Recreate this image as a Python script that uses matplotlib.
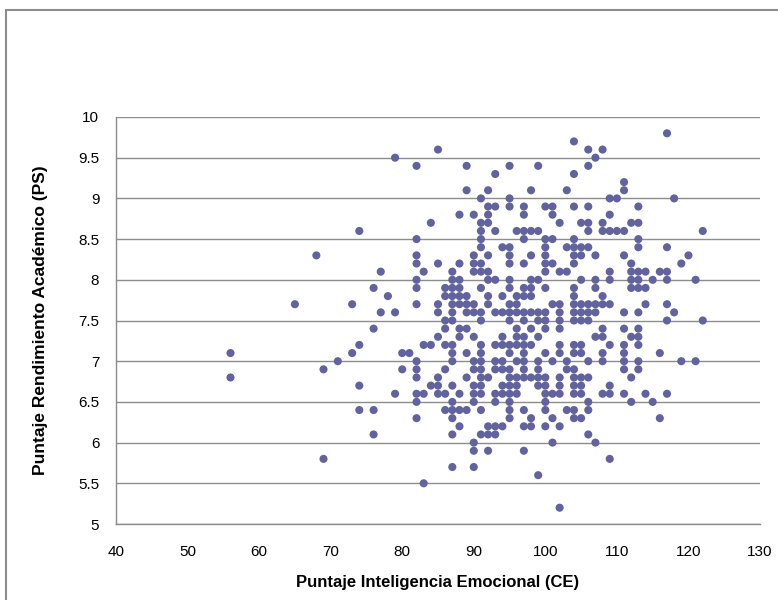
import matplotlib
matplotlib.use("Agg")
import matplotlib.pyplot as plt
from matplotlib.patches import Rectangle

plt.rcParams['font.family'] = ['Liberation Sans Narrow', 'Liberation Sans', 'DejaVu Sans']

# Data: x = Inteligencia Emocional (CE), list of PS values at that x
ce_values = [56, 65, 68, 69, 71, 73, 74, 76, 77, 78, 79, 80, 81, 82, 83, 84, 85, 86, 87, 88,
             89, 90, 91, 92, 93, 94, 95, 96, 97, 98, 99, 100, 101, 102, 103, 104, 105, 106,
             107, 108, 109, 110, 111, 112, 113, 114, 115, 116, 117, 118, 119, 120, 121, 122]
ps_values = [
    [7.1, 6.8],
    [7.7],
    [8.3],
    [6.9, 5.8],
    [7.0],
    [7.7, 7.1],
    [8.6, 7.2, 6.7, 6.4],
    [7.9, 7.4, 6.4, 6.1],
    [8.1, 7.6],
    [7.8],
    [9.5, 7.6, 6.6],
    [7.1, 6.9],
    [7.1],
    [9.4, 8.5, 8.3, 8.2, 8.0, 7.9, 7.7, 7.0, 6.9, 6.8, 6.6, 6.5, 6.3],
    [8.1, 7.2, 6.6, 5.5],
    [8.7, 7.2, 6.7],
    [9.6, 8.2, 7.7, 7.6, 7.3, 6.8, 6.7, 6.6],
    [7.9, 7.8, 7.5, 7.4, 7.2, 6.9, 6.6, 6.4],
    [8.1, 8.0, 7.9, 7.8, 7.7, 7.6, 7.5, 7.2, 7.1, 7.0, 6.7, 6.5, 6.4, 6.3, 6.1, 5.7],
    [8.8, 8.2, 8.0, 7.9, 7.8, 7.7, 7.4, 7.3, 6.6, 6.4, 6.2],
    [9.4, 9.1, 7.8, 7.7, 7.6, 7.4, 7.1, 6.8, 6.4],
    [8.8, 8.3, 8.2, 8.1, 7.7, 7.6, 7.3, 7.0, 6.9, 6.7, 6.6, 6.5, 6.0, 5.9, 5.7],
    [9.0, 8.7, 8.6, 8.5, 8.4, 8.2, 8.1, 7.9, 7.6, 7.5, 7.2, 7.1, 7.0, 6.9, 6.8, 6.7, 6.6, 6.4, 6.1],
    [9.1, 8.9, 8.8, 8.7, 8.3, 8.1, 8.0, 7.8, 7.7, 6.8, 6.2, 6.1, 5.9],
    [9.3, 8.9, 8.6, 8.0, 7.6, 7.2, 7.0, 6.9, 6.6, 6.5, 6.2, 6.1],
    [8.4, 7.8, 7.6, 7.3, 7.2, 7.0, 6.9, 6.7, 6.6, 6.2],
    [9.4, 9.0, 8.9, 8.4, 8.3, 8.2, 8.0, 7.9, 7.7, 7.6, 7.5, 7.2, 7.1, 6.9, 6.8, 6.7, 6.6, 6.5, 6.4, 6.3],
    [8.6, 7.8, 7.7, 7.6, 7.4, 7.3, 7.2, 7.0, 6.8, 6.7, 6.6],
    [8.9, 8.8, 8.6, 8.5, 8.2, 7.9, 7.8, 7.6, 7.5, 7.3, 7.2, 7.1, 7.0, 6.9, 6.8, 6.4, 6.2, 5.9],
    [9.1, 8.6, 8.3, 8.0, 7.9, 7.8, 7.6, 7.4, 7.2, 6.8, 6.3, 6.2],
    [9.4, 8.6, 8.0, 7.6, 7.5, 7.3, 7.0, 6.9, 6.8, 6.7, 5.6],
    [8.9, 8.5, 8.4, 8.3, 8.2, 8.1, 7.9, 7.6, 7.5, 7.4, 7.1, 6.8, 6.7, 6.6, 6.5, 6.4, 6.2],
    [8.9, 8.8, 8.5, 8.2, 7.7, 7.0, 6.6, 6.3, 6.0],
    [8.7, 8.1, 7.7, 7.6, 7.5, 7.4, 7.2, 7.1, 6.8, 6.7, 6.6, 6.2, 5.2],
    [9.1, 8.4, 8.1, 7.0, 6.9, 6.4],
    [9.7, 9.3, 8.9, 8.5, 8.4, 8.3, 8.2, 7.9, 7.8, 7.7, 7.6, 7.5, 7.2, 7.1, 6.9, 6.8, 6.7, 6.6, 6.4, 6.3],
    [8.7, 8.4, 8.3, 8.0, 7.7, 7.6, 7.5, 7.2, 7.1, 6.8, 6.7, 6.6, 6.3],
    [9.6, 9.4, 8.9, 8.7, 8.6, 8.4, 7.7, 7.6, 7.5, 7.0, 6.8, 6.5, 6.4, 6.1],
    [9.5, 8.3, 8.0, 7.9, 7.7, 7.6, 7.3, 6.0],
    [9.6, 8.7, 8.6, 7.8, 7.7, 7.4, 7.3, 7.1, 7.0, 6.6],
    [9.0, 8.8, 8.6, 8.1, 8.0, 7.7, 7.2, 6.7, 6.6, 5.8],
    [9.0, 8.6],
    [9.2, 9.1, 8.6, 8.3, 7.6, 7.4, 7.2, 7.1, 7.0, 6.9, 6.6],
    [8.7, 8.2, 8.1, 8.0, 7.9, 7.3, 6.8, 6.5],
    [8.9, 8.7, 8.5, 8.4, 8.1, 8.0, 7.9, 7.6, 7.4, 7.3, 7.2, 7.0, 6.9],
    [8.1, 7.9, 7.7, 6.6],
    [8.0, 6.5],
    [8.1, 7.1, 6.3],
    [9.8, 8.4, 8.1, 8.0, 7.7, 7.5, 6.6],
    [9.0, 7.6],
    [8.2, 7.0],
    [8.3],
    [8.0, 7.0],
    [8.6, 7.5],
]

x_ticks = [40, 50, 60, 70, 80, 90, 100, 110, 120, 130]
y_ticks = [5, 5.5, 6, 6.5, 7, 7.5, 8, 8.5, 9, 9.5, 10]
y_tick_labels = ['5', '5.5', '6', '6.5', '7', '7.5', '8', '8.5', '9', '9.5', '10']

xs, ys = [], []
for ce, pss in zip(ce_values, ps_values):
    for p in pss:
        xs.append(ce)
        ys.append(p)

W, H = 778, 600
fig = plt.figure(figsize=(W / 100, H / 100), dpi=100)
fig.patch.set_facecolor('white')

# outer chart border
fig.patches.append(Rectangle((6 / W, -0.05), 1.0, (H - 10) / H + 0.05,
                             transform=fig.transFigure, fill=False,
                             edgecolor='#8c8c8c', linewidth=1.5))

ax = fig.add_axes([116 / W, 1 - 524 / H, (760 - 116) / W, (524 - 117) / H])
ax.set_xlim(40, 130)
ax.set_ylim(5, 10)
ax.set_xticks(x_ticks)
ax.set_yticks(y_ticks)
ax.set_yticklabels(y_tick_labels)
ax.yaxis.grid(True, color='#8c8c8c', linewidth=1.0)
ax.set_axisbelow(True)
for s in ['top', 'right']:
    ax.spines[s].set_visible(False)
for s in ['left', 'bottom']:
    ax.spines[s].set_color('#8c8c8c')
    ax.spines[s].set_linewidth(1.0)
ax.tick_params(axis='both', length=0, labelsize=11, colors='black')
ax.tick_params(axis='x', pad=15)
ax.tick_params(axis='y', pad=12)

ax.scatter(xs, ys, s=34, color='#62629e', edgecolors='none', zorder=3)

ax.set_xlabel('Puntaje Inteligencia Emocional (CE)', fontsize=12, fontweight='bold', labelpad=12)
ax.set_ylabel('Puntaje Rendimiento Académico (PS)', fontsize=12.5, fontweight='bold', labelpad=22)

fig.savefig('out.png', dpi=100)
